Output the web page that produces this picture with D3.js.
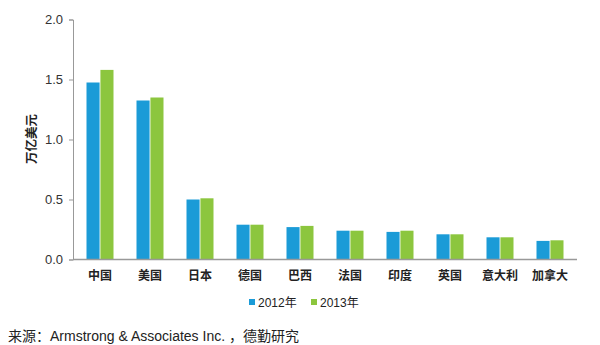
<!DOCTYPE html>
<html>
<head>
<meta charset="utf-8">
<script src="https://cdn.jsdelivr.net/npm/d3@7"></script>
<style>
  body { margin: 0; background: #fff; }
  text { font-family: "Liberation Sans", Arial, "Noto Sans CJK SC", sans-serif; }
</style>
</head>
<body>
<div id="chart"></div>
<script>
const countries = ['中国', '美国', '日本', '德国', '巴西', '法国', '印度', '英国', '意大利', '加拿大']
const values_2012 = [1.475, 1.325, 0.50, 0.29, 0.27, 0.24, 0.23, 0.21, 0.185, 0.155]
const values_2013 = [1.58, 1.35, 0.51, 0.29, 0.28, 0.24, 0.24, 0.21, 0.185, 0.16]
const series_names = ['2012年', '2013年']
const y_ticks = [0, 0.5, 1.0, 1.5, 2.0]
const source_note = '来源：Armstrong & Associates Inc. ，德勤研究'

const width = 600,
      height = 345,
      colors = ['#1b9bd7', '#8cc63e'],
      axis_color = '#999'

const svg = d3.select('#chart')
  .append('svg')
  .attr('width', width)
  .attr('height', height)

const x = d3.scaleBand().domain(countries).range([75, 575]).paddingInner(0).paddingOuter(0)
const x_inner = d3.scaleBand().domain(series_names).range([0, 27]).paddingInner(0.06)
const y = d3.scaleLinear().domain([0, 2]).range([259.5, 19.5])

// y axis
const y_axis = svg.append('g')
  .attr('transform', 'translate(73,0)')
  .call(d3.axisLeft(y).tickValues(y_ticks).tickFormat(d3.format('.1f')).tickSize(4).tickPadding(6))
y_axis.select('.domain').attr('stroke', axis_color)
y_axis.selectAll('.tick line').attr('stroke', axis_color)
y_axis.selectAll('.tick text')
  .style('font-size', '13px')
  .attr('fill', '#333')

svg.append('text')
  .attr('transform', 'translate(36,139) rotate(-90)')
  .attr('text-anchor', 'middle')
  .style('font-size', '12.5px')
  .style('font-weight', 'bold')
  .attr('fill', '#222')
  .text('万亿美元')

// bars
const groups = svg.append('g').selectAll('g')
  .data(countries)
  .join('g')
  .attr('transform', d => `translate(${x(d) + (x.bandwidth() - 27) / 2},0)`)

groups.selectAll('rect')
  .data((d, i) => [values_2012[i], values_2013[i]].map((v, k) => ({ key: series_names[k], value: v, k: k })))
  .join('rect')
  .attr('x', d => x_inner(d.key))
  .attr('width', x_inner.bandwidth())
  .attr('y', d => y(d.value))
  .attr('height', d => y(0) - y(d.value))
  .attr('fill', d => colors[d.k])

// x axis
const x_axis = svg.append('g')
  .attr('transform', `translate(0,${y(0)})`)
  .call(d3.axisBottom(x).tickSize(0).tickPadding(12))
x_axis.select('.domain').attr('stroke', axis_color).attr('stroke-width', 1.5)
  .attr('d', `M73,0H577`)
x_axis.selectAll('.tick text')
  .style('font-size', '12px')
  .style('font-weight', 'bold')
  .attr('fill', '#222')

// legend
const legend = svg.append('g').attr('transform', 'translate(249,303)')
const legend_x = [0, 62]
series_names.forEach((name, i) => {
  legend.append('rect')
    .attr('x', legend_x[i])
    .attr('y', -4)
    .attr('width', 6)
    .attr('height', 6)
    .attr('fill', colors[i])
  legend.append('text')
    .attr('x', legend_x[i] + 9)
    .attr('y', 4)
    .style('font-size', '12px')
    .attr('fill', '#222')
    .text(name)
})

// source
svg.append('text')
  .attr('x', 8)
  .attr('y', 341)
  .style('font-size', '14px')
  .attr('fill', '#222')
  .text(source_note)
</script>
</body>
</html>
